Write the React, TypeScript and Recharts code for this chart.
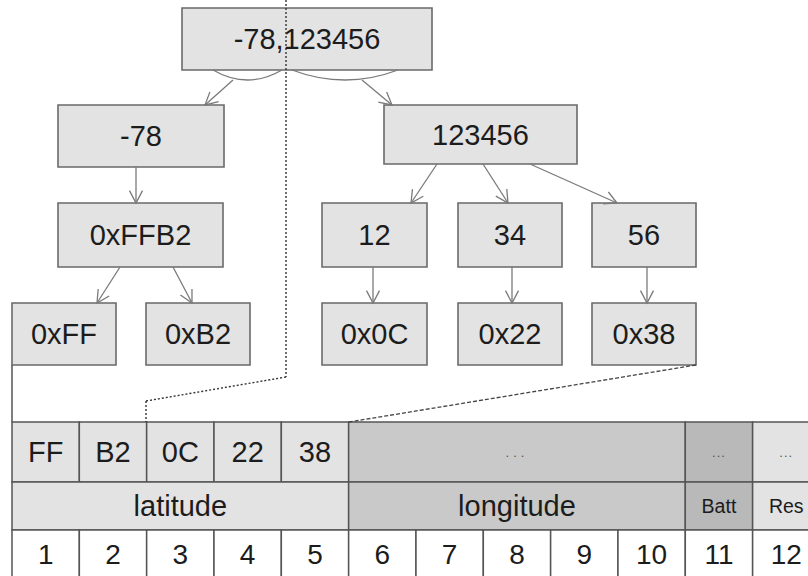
import React from 'react';
import { ComposedChart, XAxis, YAxis, ReferenceArea, ReferenceLine } from 'recharts';

// ---- data ----
const rootValue = '-78,123456';
const splitValues = ['-78', '123456'];
const latitudeHex = '0xFFB2';
const latitudeBytes = ['0xFF', '0xB2'];
const longitudePairs = ['12', '34', '56'];
const longitudeBytes = ['0x0C', '0x22', '0x38'];
const byteNumbers = ['1', '2', '3', '4', '5', '6', '7', '8', '9', '10', '11', '12'];
const byteRow = [
  { label: 'FF', span: 1, field: 'lat' },
  { label: 'B2', span: 1, field: 'lat' },
  { label: '0C', span: 1, field: 'lat' },
  { label: '22', span: 1, field: 'lat' },
  { label: '38', span: 1, field: 'lat' },
  { label: '...', span: 5, field: 'lon' },
  { label: '...', span: 1, field: 'batt' },
  { label: '...', span: 1, field: 'res' },
];
const fieldRow = [
  { label: 'latitude', span: 5, field: 'lat' },
  { label: 'longitude', span: 5, field: 'lon' },
  { label: 'Batt', span: 1, field: 'batt' },
  { label: 'Res', span: 1, field: 'res' },
];

// ---- layout & style (not data) ----
const W = 808;
const H = 576;
const TABLE_LEFT = 12;
const COL_W = 67.33;
const ROW_Y = [422, 482, 530, 578];
const FILL: Record<string, string> = { lat: '#e3e3e3', lon: '#c9c9c9', batt: '#b9b9b9', res: '#e3e3e3' };
const BOX_FILL = '#e3e3e3';
const BOX_STROKE = '#6a6a6a';
const TABLE_STROKE = '#555';
const TEXT = '#1c1c1c';
const ARROW = '#7a7a7a';

type Box = [number, number, number, number];
const rootBox: Box = [182, 8, 432, 70];
const splitBoxes: Box[] = [[58, 105, 224, 167], [384, 105, 577, 164]];
const hexBox: Box = [58, 203, 223, 267];
const latByteBoxes: Box[] = [[12, 303, 116, 365], [146, 303, 250, 365]];
const pairBoxes: Box[] = [[322, 203, 427, 267], [458, 203, 562, 267], [592, 203, 696, 267]];
const lonByteBoxes: Box[] = [[322, 303, 427, 365], [458, 303, 562, 365], [592, 303, 696, 365]];

type Seg = [number, number, number, number];
const arrows: Seg[] = [
  [233, 80, 205, 105],
  [362, 80, 392, 105],
  [136, 167, 136, 203],
  [120, 267, 97, 303],
  [173, 267, 192, 303],
  [437, 164, 411, 203],
  [483, 164, 508, 203],
  [530, 164, 617, 203],
  [373, 267, 373, 303],
  [512, 267, 512, 303],
  [647, 267, 647, 303],
];
const arcs: Seg[] = [
  [213, 70, 282, 70],
  [292, 70, 398, 70],
];

const ArrowShape = (props: any) => {
  const { x1, y1, x2, y2 } = props;
  const ang = Math.atan2(y2 - y1, x2 - x1);
  const L = 14;
  const a = Math.PI / 6.5;
  const p1 = [x2 - L * Math.cos(ang - a), y2 - L * Math.sin(ang - a)];
  const p2 = [x2 - L * Math.cos(ang + a), y2 - L * Math.sin(ang + a)];
  return (
    <g>
      <line x1={x1} y1={y1} x2={x2} y2={y2} stroke={ARROW} strokeWidth={1.3} />
      <polyline points={`${p1[0]},${p1[1]} ${x2},${y2} ${p2[0]},${p2[1]}`} fill="none" stroke={ARROW} strokeWidth={1.3} />
    </g>
  );
};

const ArcShape = (props: any) => {
  const { x1, y1, x2, y2 } = props;
  const cx = (x1 + x2) / 2;
  const cy = Math.max(y1, y2) + 20;
  return <path d={`M${x1},${y1} Q${cx},${cy} ${x2},${y2}`} fill="none" stroke={ARROW} strokeWidth={1.3} />;
};

const boxArea = (key: string, b: Box, text: string) => (
  <ReferenceArea
    key={key}
    x1={b[0]}
    x2={b[2]}
    y1={b[1]}
    y2={b[3]}
    fill={BOX_FILL}
    fillOpacity={1}
    stroke={BOX_STROKE}
    strokeWidth={1.6}
    ifOverflow="visible"
    label={{ value: text, position: 'center', fill: TEXT, fontSize: 29 }}
  />
);

const colX = (i: number) => TABLE_LEFT + i * COL_W;

export default function App() {
  const cells: React.ReactNode[] = [];
  let c = 0;
  byteRow.forEach((cell, i) => {
    const small = cell.label === '...';
    cells.push(
      <ReferenceArea
        key={`b${i}`}
        x1={colX(c)}
        x2={colX(c + cell.span)}
        y1={ROW_Y[0]}
        y2={ROW_Y[1]}
        fill={FILL[cell.field]}
        fillOpacity={1}
        stroke={TABLE_STROKE}
        strokeWidth={1.5}
        ifOverflow="hidden"
        label={{
          value: cell.label,
          position: 'center',
          fill: small ? '#555555' : TEXT,
          fontSize: small ? 13 : 29,
          letterSpacing: small ? (cell.span > 1 ? 4 : 1) : 0,
        }}
      />
    );
    c += cell.span;
  });
  c = 0;
  fieldRow.forEach((cell, i) => {
    const small = cell.span === 1;
    cells.push(
      <ReferenceArea
        key={`f${i}`}
        x1={colX(c)}
        x2={colX(c + cell.span)}
        y1={ROW_Y[1]}
        y2={ROW_Y[2]}
        fill={FILL[cell.field]}
        fillOpacity={1}
        stroke={TABLE_STROKE}
        strokeWidth={1.5}
        ifOverflow="hidden"
        label={{ value: cell.label, position: 'center', fill: TEXT, fontSize: small ? 19.5 : 29 }}
      />
    );
    c += cell.span;
  });
  byteNumbers.forEach((n, i) => {
    cells.push(
      <ReferenceArea
        key={`n${i}`}
        x1={colX(i)}
        x2={colX(i + 1)}
        y1={ROW_Y[2]}
        y2={ROW_Y[3]}
        fill="#ffffff"
        fillOpacity={1}
        stroke={TABLE_STROKE}
        strokeWidth={1.5}
        ifOverflow="hidden"
        label={{ value: n, position: 'center', fill: TEXT, fontSize: 28 }}
      />
    );
  });

  return (
    <div style={{ position: 'absolute', left: 0, top: 0, width: W, height: H, background: '#fff' }}>
      <ComposedChart
        width={W}
        height={H}
        data={byteNumbers.map((n) => ({ n }))}
        margin={{ top: 0, right: 0, bottom: 0, left: 0 }}
        style={{ fontFamily: '"Liberation Sans", Arial, sans-serif' }}
      >
        <XAxis type="number" dataKey="n" domain={[0, W]} hide allowDataOverflow />
        <YAxis type="number" domain={[0, H]} reversed hide allowDataOverflow />

        {/* connector lines */}
        <ReferenceLine segment={[{ x: 286, y: 0 }, { x: 286, y: 377 }]} stroke="#333" strokeWidth={1.4} strokeDasharray="2 2" ifOverflow="visible" />
        <ReferenceLine segment={[{ x: 286, y: 377 }, { x: 146, y: 401 }]} stroke="#333" strokeWidth={1.4} strokeDasharray="2 2" ifOverflow="visible" />
        <ReferenceLine segment={[{ x: 146, y: 401 }, { x: 146, y: 422 }]} stroke="#333" strokeWidth={1.4} strokeDasharray="2 2" ifOverflow="visible" />
        <ReferenceLine segment={[{ x: 696, y: 365 }, { x: 349, y: 422 }]} stroke="#444" strokeWidth={1.3} strokeDasharray="4 2" ifOverflow="visible" />
        <ReferenceLine segment={[{ x: 12, y: 365 }, { x: 12, y: 422 }]} stroke={TABLE_STROKE} strokeWidth={1.5} ifOverflow="visible" />

        {arcs.map((s, i) => (
          <ReferenceLine key={`arc${i}`} segment={[{ x: s[0], y: s[1] }, { x: s[2], y: s[3] }]} shape={ArcShape} ifOverflow="visible" />
        ))}
        {arrows.map((s, i) => (
          <ReferenceLine key={`ar${i}`} segment={[{ x: s[0], y: s[1] }, { x: s[2], y: s[3] }]} shape={ArrowShape} ifOverflow="visible" />
        ))}

        {boxArea('root', rootBox, rootValue)}
        {splitBoxes.map((b, i) => boxArea(`s${i}`, b, splitValues[i]))}
        {boxArea('hex', hexBox, latitudeHex)}
        {latByteBoxes.map((b, i) => boxArea(`lb${i}`, b, latitudeBytes[i]))}
        {pairBoxes.map((b, i) => boxArea(`p${i}`, b, longitudePairs[i]))}
        {lonByteBoxes.map((b, i) => boxArea(`ob${i}`, b, longitudeBytes[i]))}

        {cells}
      </ComposedChart>
    </div>
  );
}
